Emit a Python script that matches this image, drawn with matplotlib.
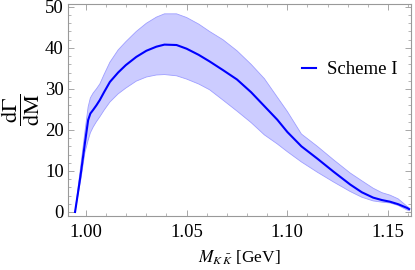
import matplotlib
matplotlib.use("Agg")
import matplotlib.pyplot as plt
from matplotlib.ticker import MultipleLocator

# values
mass = [0.9946, 0.9960, 0.9975, 0.9995, 1.0011, 1.0022, 1.0036, 1.0052, 1.0069, 1.0090,
        1.0119, 1.0160, 1.0198, 1.0250, 1.0300, 1.0350, 1.0390, 1.0450, 1.0500, 1.0560,
        1.0614, 1.0680, 1.0750, 1.0820, 1.0886, 1.0950, 1.1000, 1.1070, 1.1149, 1.1230,
        1.1312, 1.1370, 1.1426, 1.1470, 1.1510, 1.1550, 1.1594, 1.1605]
central = [0, 4.5, 9.5, 16.8, 22.4, 24.0, 24.9, 26.0, 27.3, 29.2,
           31.7, 34.0, 35.8, 37.8, 39.3, 40.3, 40.8, 40.7, 39.8, 38.3,
           36.7, 34.6, 32.3, 29.2, 25.8, 22.5, 19.5, 16.0, 13.0, 9.8,
           6.7, 4.8, 3.5, 2.9, 2.5, 1.9, 1.0, 0.7]
upper = [0, 5.5, 11.5, 19.5, 25.6, 27.8, 29.0, 30.0, 31.2, 33.5,
         36.5, 39.5, 41.5, 44.0, 46.0, 47.5, 48.3, 48.3, 47.4, 45.8,
         44.0, 42.0, 39.3, 36.0, 32.5, 28.0, 24.5, 19.0, 16.0, 12.7,
         9.5, 7.6, 5.8, 4.7, 4.1, 3.2, 1.4, 1.0]
lower = [0, 4.0, 8.0, 14.5, 17.5, 19.3, 20.7, 22.0, 23.2, 24.8,
         26.8, 28.8, 30.2, 31.9, 32.9, 33.4, 33.5, 33.2, 32.4, 31.2,
         29.8, 27.3, 24.6, 21.8, 18.8, 16.6, 14.7, 12.2, 9.7, 7.3,
         5.0, 3.6, 2.7, 2.4, 2.2, 1.6, 0.5, 0.3]

plt.rcParams['font.family'] = ['Liberation Serif', 'DejaVu Serif']
plt.rcParams['mathtext.fontset'] = 'stix'

fig = plt.figure(figsize=(4.15, 2.7), dpi=100)
ax = fig.add_axes([68/415, 54/270, 343/415, 212/270])

ax.fill_between(mass, lower, upper, facecolor=(0.8, 0.8, 1.0), edgecolor='none')
ax.plot(mass, upper, color=(0.62, 0.62, 1.0), lw=0.6)
ax.plot(mass, lower, color=(0.62, 0.62, 1.0), lw=0.6)
ax.plot(mass, central, color='blue', lw=1.5, label='Scheme I')

ax.set_xlim(0.9911, 1.1614)
ax.set_ylim(-0.98, 50.7)
ax.xaxis.set_major_locator(MultipleLocator(0.05))
ax.xaxis.set_minor_locator(MultipleLocator(0.01))
ax.yaxis.set_major_locator(MultipleLocator(10))
ax.yaxis.set_minor_locator(MultipleLocator(2))
ax.xaxis.set_major_formatter(matplotlib.ticker.FormatStrFormatter('%.2f'))

gray = (0.6, 0.6, 0.6)
for s in ax.spines.values():
    s.set_color(gray)
    s.set_linewidth(0.8)
ax.tick_params(which='both', direction='in', top=True, right=True, color=gray,
               labelsize=13.5, labelcolor='black')
ax.tick_params(which='major', length=4.5, width=0.6, pad=3)
ax.tick_params(axis='x', which='major', pad=6)
ax.tick_params(which='minor', length=2.5, width=0.5)

ax.set_xlabel(r'$M_{K\,\bar{K}}$ [GeV]', fontsize=12.5, labelpad=5)
fig.text(21/415, 1 - 110/270, r'$\dfrac{\mathrm{d}\Gamma}{\mathrm{dM}}$', rotation=90,
         ha='center', va='center', fontsize=16)

ax.legend(loc='center left', bbox_to_anchor=(0.655, 0.689), frameon=False,
          handlelength=0.75, handletextpad=0.6, borderpad=0, fontsize=13.5)

fig.savefig('out.png', dpi=100)
